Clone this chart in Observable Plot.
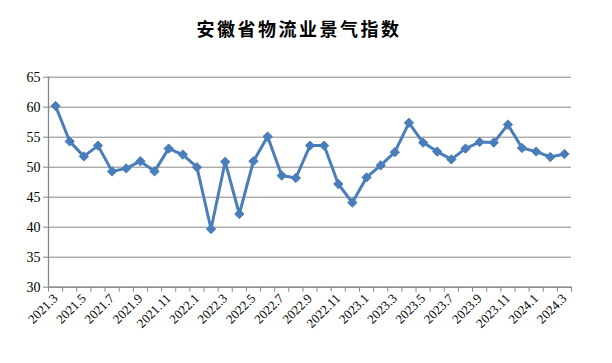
<!DOCTYPE html>
<html><head><meta charset="utf-8">
<script src="https://cdn.jsdelivr.net/npm/d3@7"></script>
<script src="https://cdn.jsdelivr.net/npm/@observablehq/plot@0.6"></script>
<style>
body{margin:0;background:#fff;}
#title{height:50px;width:612px;text-align:center;line-height:56px;font-family:"Noto Sans CJK SC";font-weight:bold;font-size:18px;letter-spacing:2.5px;color:#000;box-sizing:border-box;padding-right:14px;}
#chart svg{display:block;}
</style>
</head><body>
<div id="title">安徽省物流业景气指数</div>
<div id="chart"></div>
<script>
const periods = ["2021.3","2021.4","2021.5","2021.6","2021.7","2021.8","2021.9","2021.10","2021.11","2021.12",
"2022.1","2022.2","2022.3","2022.4","2022.5","2022.6","2022.7","2022.8","2022.9","2022.10","2022.11","2022.12",
"2023.1","2023.2","2023.3","2023.4","2023.5","2023.6","2023.7","2023.8","2023.9","2023.10","2023.11","2023.12",
"2024.1","2024.2","2024.3"];
const values = [60.2,54.3,51.8,53.6,49.3,49.8,51.0,49.3,53.1,52.1,
50.0,39.7,50.9,42.2,51.0,55.1,48.6,48.2,53.6,53.6,47.2,44.1,
48.3,50.3,52.5,57.4,54.1,52.6,51.3,53.1,54.2,54.1,57.1,53.2,
52.6,51.7,52.2];
const yTicks = [30,35,40,45,50,55,60,65];

const data = periods.map((p, i) => ({p, i, v: values[i]}));
const boundaries = d3.range(periods.length + 1);
const labelPos = d3.range(0, periods.length, 2).map(i => i + 0.5);
const grid = "#878787";

const chart = Plot.plot({
  width: 612, height: 313,
  marginLeft: 48, marginRight: 41, marginTop: 26.7, marginBottom: 76.3,
  x: {domain: [0, periods.length], axis: null},
  y: {domain: [30, 65], axis: null},
  style: {fontFamily: "Liberation Serif", background: "white", color: "black"},
  marks: [
    Plot.gridY(yTicks, {stroke: grid, strokeOpacity: 1, strokeWidth: 1}),
    Plot.ruleX([0], {stroke: grid, strokeWidth: 1.3}),
    Plot.ruleY([30], {stroke: grid, strokeWidth: 1.3}),
    Plot.axisY(yTicks, {anchor: "left", label: null, tickSize: 5, tickPadding: 3, stroke: grid, fill: "black", fontSize: 14}),
    Plot.axisX(boundaries, {anchor: "bottom", label: null, tickSize: 5, tickFormat: () => "", stroke: grid}),
    Plot.axisX(labelPos, {anchor: "bottom", label: null, tickSize: 0, tickPadding: 9, tickRotate: -45, textAnchor: "end",
      tickFormat: d => periods[Math.floor(d)], fill: "black", fontSize: 13}),
    Plot.line(data, {x: d => d.i + 0.5, y: "v", stroke: "#4A7EBB", strokeWidth: 3}),
    Plot.dot(data, {x: d => d.i + 0.5, y: "v", symbol: "diamond2", r: 4.2, fill: "#4A7EBB", stroke: "#4A7EBB", strokeWidth: 1})
  ]
});
document.getElementById("chart").appendChild(chart);
</script>
</body></html>
